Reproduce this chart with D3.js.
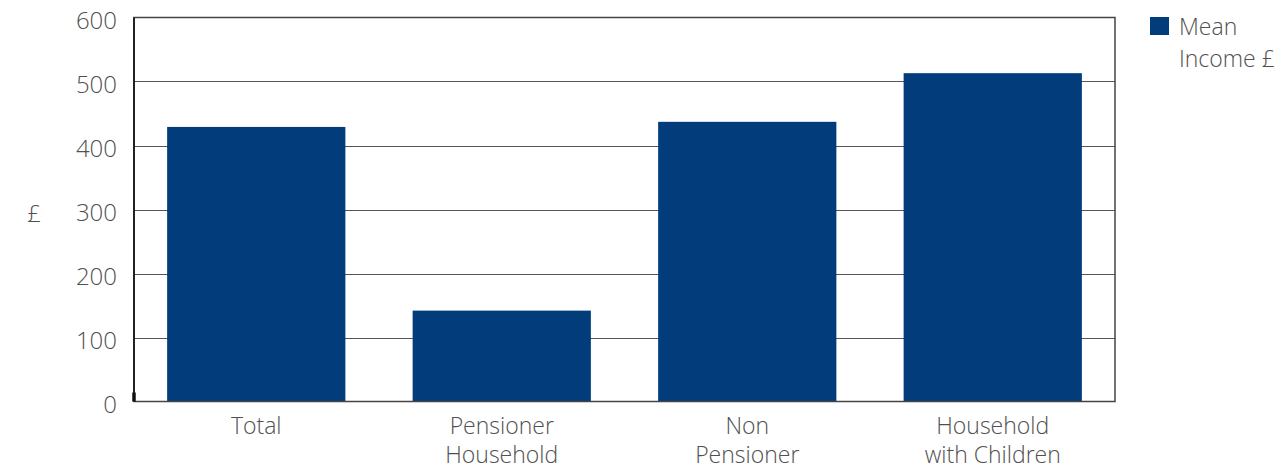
<!DOCTYPE html>
<html>
<head>
<meta charset="utf-8">
<script src="https://cdn.jsdelivr.net/npm/d3@7"></script>
<style>
  body { margin: 0; background: #fff; }
  text { font-family: "Open Sans", sans-serif; font-weight: 300; fill: #505050; }
</style>
</head>
<body>
<svg width="1284" height="468"></svg>
<script>
const categories = [["Total"], ["Pensioner", "Household"], ["Non", "Pensioner"], ["Household", "with Children"]];
const meanIncome = [429, 142, 437, 513];
const yTicks = [0, 100, 200, 300, 400, 500, 600];
const seriesName = ["Mean", "Income £"];

const svg = d3.select('svg');
const plotLeft = 134, plotRight = 1115, plotTop = 17.5, plotBottom = 401.5;
const barColor = '#023c7a';

const x = d3.scaleBand()
    .domain(d3.range(categories.length))
    .range([plotLeft, plotRight])
    .paddingInner(0.274)
    .paddingOuter(0.135);

const y = d3.scaleLinear().domain([0, 600]).range([plotBottom, plotTop]);

// gridlines
svg.append('g')
    .selectAll('line')
    .data(yTicks.filter(d => d > 0 && d < 600))
    .enter()
    .append('line')
    .attr('x1', plotLeft).attr('x2', plotRight)
    .attr('y1', d => Math.round(y(d)) + 0.5)
    .attr('y2', d => Math.round(y(d)) + 0.5)
    .attr('stroke', '#555')
    .attr('stroke-width', 1);

// bars
svg.append('g')
    .selectAll('rect')
    .data(meanIncome)
    .enter()
    .append('rect')
    .attr('x', (d, i) => x(i))
    .attr('width', x.bandwidth())
    .attr('y', d => y(d))
    .attr('height', d => y(0) - y(d))
    .attr('fill', barColor);

// frame
svg.append('rect')
    .attr('x', plotLeft).attr('y', plotTop)
    .attr('width', plotRight - plotLeft).attr('height', plotBottom - plotTop)
    .attr('fill', 'none')
    .attr('stroke', '#444')
    .attr('stroke-width', 1.5);

// left axis line, slightly heavier
svg.append('line')
    .attr('x1', plotLeft).attr('x2', plotLeft)
    .attr('y1', plotTop).attr('y2', plotBottom)
    .attr('stroke', '#222').attr('stroke-width', 2);
svg.append('line')
    .attr('x1', plotLeft).attr('x2', plotLeft)
    .attr('y1', plotBottom - 9).attr('y2', plotBottom)
    .attr('stroke', '#111').attr('stroke-width', 3.5);

// y tick labels
svg.append('g')
    .selectAll('text')
    .data(yTicks)
    .enter()
    .append('text')
    .attr('x', 117)
    .attr('y', d => y(d) + 11)
    .attr('text-anchor', 'end')
    .style('font-size', '24px')
    .text(d => d);

// y axis title
svg.append('text')
    .attr('x', 34).attr('y', 222)
    .attr('text-anchor', 'middle')
    .style('font-size', '24px')
    .text('£');

// category labels
const cat = svg.append('g')
    .selectAll('text')
    .data(categories)
    .enter()
    .append('text')
    .attr('x', (d, i) => x(i) + x.bandwidth() / 2)
    .attr('text-anchor', 'middle')
    .style('font-size', '23px');
cat.selectAll('tspan')
    .data(d => d)
    .enter()
    .append('tspan')
    .attr('x', function() { return d3.select(this.parentNode).attr('x'); })
    .attr('y', (d, j) => 434 + j * 29)
    .text(d => d);

// legend
const legend = svg.append('g');
legend.append('rect')
    .attr('x', 1150).attr('y', 17)
    .attr('width', 19).attr('height', 18)
    .attr('fill', barColor);
legend.selectAll('text')
    .data(seriesName)
    .enter()
    .append('text')
    .attr('x', 1179)
    .attr('y', (d, i) => 35 + i * 32)
    .style('font-size', '23px')
    .text(d => d);
</script>
</body>
</html>
